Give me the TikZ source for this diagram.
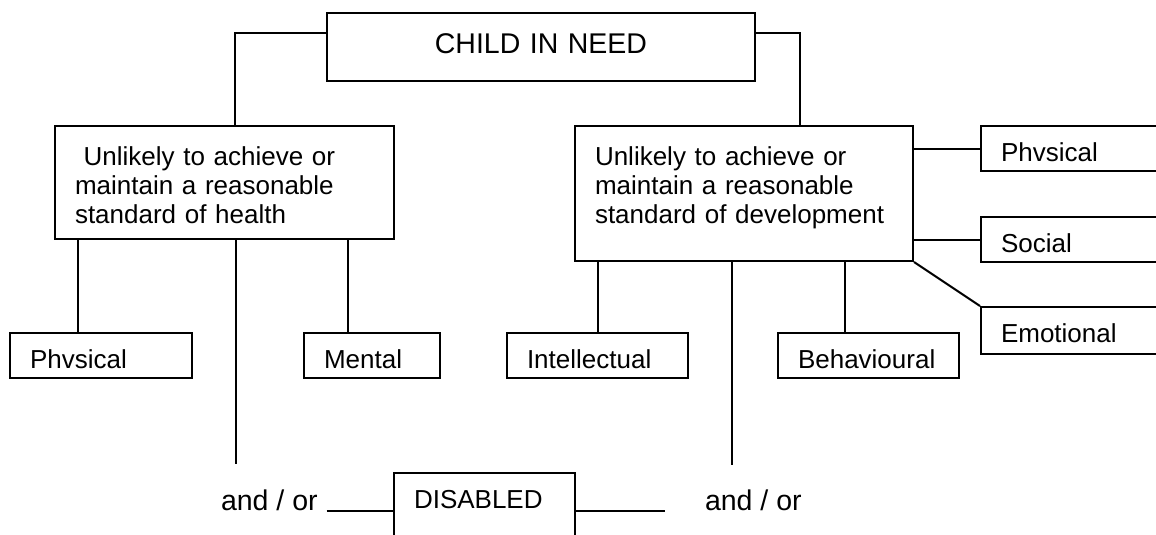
\documentclass[tikz,border=0pt]{standalone}
\usepackage{fontspec}
\setmainfont{Liberation Sans}
\usetikzlibrary{calc, positioning}

\newcommand{\boxfont}{\fontsize{26}{29}\selectfont}
\newcommand{\headfont}{\fontsize{28.5}{32}\selectfont}

\tikzset{
  bigbox/.style={draw, anchor=north west, inner xsep=20pt, inner ysep=0pt, align=left, font=\boxfont},
  smallbox/.style={bigbox, text height=35pt, text depth=10pt},
  andor/.style={font=\headfont, anchor=base west, inner sep=0pt}
}

\begin{document}
\begin{tikzpicture}[x=1pt, y=-1pt, line width=2pt]
  \useasboundingbox (0,0) rectangle (1156,535);
  \clip (0,0) rectangle (1156,535);

  % main boxes
  \node[bigbox, text width=388pt, align=center, font=\headfont, text height=40pt, text depth=28pt] (need) at (326,12) {CHILD IN NEED};
  \node[bigbox, text width=299pt, text height=39pt, text depth=74pt] (health) at (54,125) {\ Unlikely to achieve or\\maintain a reasonable\\standard of health};
  \node[bigbox, text width=298pt, text height=39pt, text depth=96pt] (devel) at (574,125) {Unlikely to achieve or\\maintain a reasonable\\standard of development};

  % small boxes
  \node[smallbox, text width=142pt] (physA) at (9,332) {Phvsical};
  \node[smallbox, text width=96pt] (mental) at (303,332) {Mental};
  \node[smallbox, text width=141pt] (intel) at (506,332) {Intellectual};
  \node[smallbox, text width=141pt] (behav) at (777,332) {Behavioural};
  \node[smallbox, text width=150pt] (physB) at (980,125) {Phvsical};
  \node[smallbox, text width=150pt] (social) at (980,216) {Social};
  \node[smallbox, text width=150pt, text depth=12pt] (emotion) at (980,306) {Emotional};
  \node[smallbox, text width=141pt, text depth=40pt] (disabled) at (393,472) {DISABLED};

  \node[andor] (andorA) at (220,510) {and / or};
  \node[andor] (andorB) at (704,510) {and / or};

  \coordinate (healthend) at (236,464);
  \coordinate (develend) at (732,465);
  \coordinate (hA) at ($(health.south west)+(24,0)$);
  \coordinate (hC) at ($(health.south west)+(294,0)$);
  \coordinate (dC) at ($(devel.south west)+(271,0)$);
  \coordinate (orA) at ($(andorA.east)+(8,0)$);
  \coordinate (orB) at ($(andorB.west)+(-39,0)$);

  % connectors
  \draw ($(need.north west)+(0,21)$) -| ($(health.north west)+(181,0)$);
  \draw ($(need.north east)+(0,21)$) -| ($(devel.north west)+(226,0)$);

  \draw (hA) -- (hA |- physA.north);
  \draw (health.south -| healthend) -- (healthend);
  \draw (hC) -- (hC |- mental.north);

  \draw (intel.north |- devel.south) -- (intel.north);
  \draw (devel.south -| develend) -- (develend);
  \draw (dC) -- (dC |- behav.north);

  \draw (devel.east |- physB.west) -- (physB.west);
  \draw (devel.east |- social.west) -- (social.west);
  \draw (devel.south east) -- (emotion.north west);

  \draw (orA |- disabled.west) -- (disabled.west);
  \draw (disabled.east) -- (orB |- disabled.east);
\end{tikzpicture}
\end{document}
